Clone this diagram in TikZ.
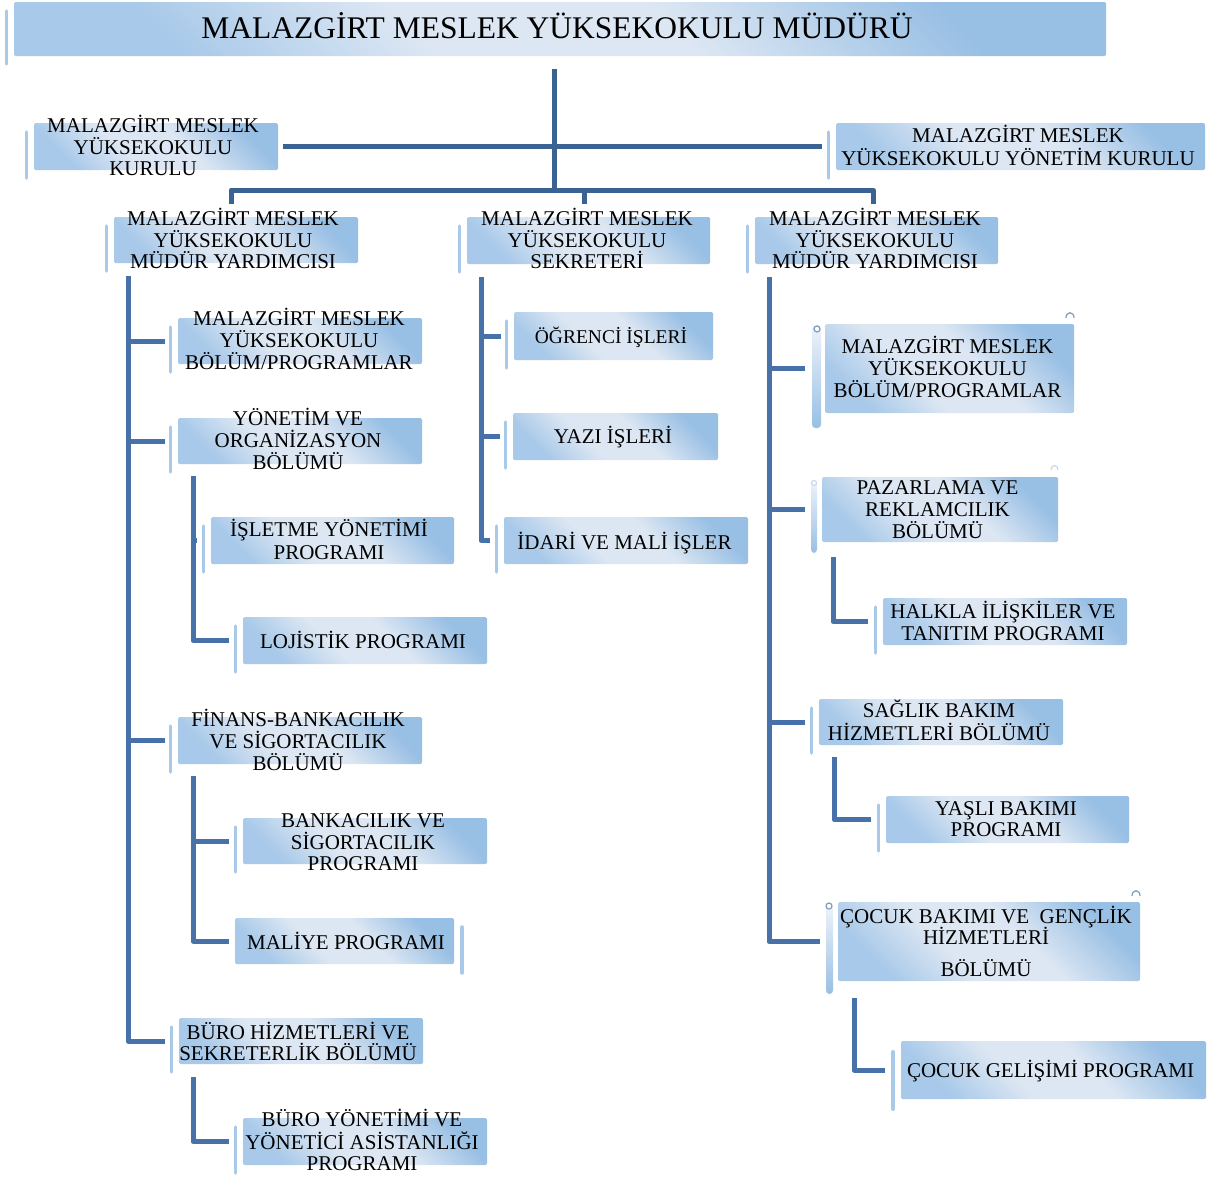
\documentclass[tikz,border=0pt]{standalone}
\usepackage{fontspec}
\setmainfont{Liberation Serif}
\definecolor{cA}{HTML}{3A6293}
\definecolor{cB}{HTML}{4672A9}
\definecolor{bxD}{HTML}{98BFE4}
\definecolor{bxL}{HTML}{DDE7F3}
\definecolor{bxB}{HTML}{A8C9E9}
\definecolor{barc}{HTML}{A9C9E9}
\definecolor{curlc}{HTML}{7F9CC0}
\pgfdeclareverticalshading{boxsh}{100bp}{color(0bp)=(bxB); color(25bp)=(bxB); color(41bp)=(bxL); color(57bp)=(bxL); color(75bp)=(bxD); color(100bp)=(bxD)}
\newcounter{lnc}
\newcommand\tline[4][21]{\stepcounter{lnc}\node[txt,font=\fontsize{#1}{22}\selectfont] (L\thelnc) at (#2,#3) {#4};}
\newcommand\obox[5]{\node[boxs,minimum width={(#4)-(#2)},minimum height={(#5)-(#3)}] (#1) at ({((#2)+(#4))/2},{((#3)+(#5))/2}) {};}
\newcommand\obar[1]{\draw[barl] ([shift={(-7.5pt,-9pt)}]#1.north west) -- ([shift={(-7.5pt,-8pt)}]#1.south west);}
\tikzset{
  txt/.style={anchor=base,inner sep=0pt,text=black},
  boxs/.style={draw=none,inner sep=0pt,outer sep=0pt,rounded corners=1.5pt,
    shade,shading=boxsh,shading angle=-45},
  barl/.style={draw=barc,line width=3.5pt,line cap=round},
  cA/.style={draw=cA,line width=5pt,line join=round},
  cB/.style={draw=cB,line width=5pt,line join=round},
  curl/.style={draw=curlc,line width=1.2pt},
  sbar/.style={top color=bxL!50!white,bottom color=bxD,rounded corners=3.5pt}
}
\begin{document}
\begin{tikzpicture}[x=1pt,y=-1pt]
\useasboundingbox (0,0) rectangle (1222,1176);

% ---------- boxes ----------
\obox{top}{14}{2}{1106}{56}\obar{top}
\obox{kur}{34}{123}{278}{170}\obar{kur}
\obox{yk}{836}{123}{1205}{170}\obar{yk}
\obox{A}{114}{217}{358}{263}\obar{A}
\obox{B}{467}{217}{710}{264}\obar{B}
\obox{C}{755}{217}{998}{264}\obar{C}
\obox{c1}{178}{318}{422}{364}\obar{c1}
\obox{yon}{178}{418}{422}{464}\obar{yon}
\obox{isl}{211}{517}{454}{564}\obar{isl}
\obox{loj}{243}{617}{487}{664}\obar{loj}
\obox{fin}{178}{717}{422}{764}\obar{fin}
\obox{bank}{243}{818}{487}{864}\obar{bank}
\obox{mal}{235}{918}{454}{964}
\draw[barl] ([shift={(8pt,-9pt)}]mal.north east) -- ([shift={(8pt,-9pt)}]mal.south east);
\obox{buro}{179}{1018}{423}{1064}\obar{buro}
\obox{bym}{243}{1118}{487}{1165}\obar{bym}
\obox{ogr}{514}{312}{713}{360}\obar{ogr}
\obox{yaz}{513}{413}{718}{460}\obar{yaz}
\obox{ida}{504}{517}{748}{564}\obar{ida}
\obox{rb1}{825}{324}{1074}{413}
\obox{paz}{822}{477}{1058}{542}
\obox{hal}{883}{598}{1127}{645}\obar{hal}
\obox{sag}{819}{699}{1063}{745}\obar{sag}
\obox{yas}{886}{796}{1129}{843}\obar{yas}
\obox{coc}{838}{902}{1140}{981}
\obox{cgp}{901}{1041}{1206}{1099}
\draw[barl,line width=4pt] ([shift={(-8pt,-11pt)}]cgp.north west) -- ([shift={(-8pt,-10pt)}]cgp.south west);

% special scroll bars
\shade[sbar] (812,325) rectangle (821,428);
\shade[sbar] (811,480) rectangle (817,553);
\shade[sbar] (826,905) rectangle (833,994);
\draw[curl,fill=white] (817,329) circle (3pt);
\draw[curl,fill=white,draw=curlc!40] (814,483) circle (2.5pt);
\draw[curl,fill=white] (829,906) circle (3pt);
\draw[curl] (1066,318) .. controls (1066,311) and (1074,311) .. (1074,318);
\draw[curl,draw=curlc!40] (1051,470) .. controls (1051,464) and (1058,464) .. (1058,470);
\draw[curl] (1132,896) .. controls (1132,889) and (1140,889) .. (1140,896);

% ---------- texts ----------
\tline[31.5]{557}{38.5}{MALAZGİRT MESLEK YÜKSEKOKULU MÜDÜRÜ}
\tline{153}{132}{MALAZGİRT MESLEK}
\tline{153}{154}{YÜKSEKOKULU}
\tline{153}{175}{KURULU}
\tline{1018}{142}{MALAZGİRT MESLEK}
\tline{1018}{165}{YÜKSEKOKULU YÖNETİM KURULU}
\tline{233}{225}{MALAZGİRT MESLEK}
\tline{233}{247}{YÜKSEKOKULU}
\tline{233}{268}{MÜDÜR YARDIMCISI}
\tline{587}{225}{MALAZGİRT MESLEK}
\tline{587}{247}{YÜKSEKOKULU}
\tline{587}{268}{SEKRETERİ}
\tline{875}{225}{MALAZGİRT MESLEK}
\tline{875}{247}{YÜKSEKOKULU}
\tline{875}{268}{MÜDÜR YARDIMCISI}
\tline{299}{325}{MALAZGİRT MESLEK}
\tline{299}{347}{YÜKSEKOKULU}
\tline{299}{369}{BÖLÜM/PROGRAMLAR}
\tline{298}{425}{YÖNETİM VE}
\tline{298}{447}{ORGANİZASYON}
\tline{298}{469}{BÖLÜMÜ}
\tline{329}{536}{İŞLETME YÖNETİMİ}
\tline{329}{559}{PROGRAMI}
\tline{363}{648}{LOJİSTİK PROGRAMI}
\tline{298}{726}{FİNANS-BANKACILIK}
\tline{298}{748}{VE SİGORTACILIK}
\tline{298}{770}{BÖLÜMÜ}
\tline{363}{827}{BANKACILIK VE}
\tline{363}{849}{SİGORTACILIK}
\tline{363}{870}{PROGRAMI}
\tline{346}{949}{MALİYE PROGRAMI}
\tline{298}{1039}{BÜRO HİZMETLERİ VE}
\tline{298}{1060}{SEKRETERLİK BÖLÜMÜ}
\tline{362}{1126}{BÜRO YÖNETİMİ VE}
\tline{362}{1149}{YÖNETİCİ ASİSTANLIĞI}
\tline{362}{1170}{PROGRAMI}
\tline[19.5]{611}{343}{ÖĞRENCİ İŞLERİ}
\tline{613}{443}{YAZI İŞLERİ}
\tline{624.5}{549}{İDARİ VE MALİ İŞLER}
\tline{947.5}{353}{MALAZGİRT MESLEK}
\tline{947.5}{375}{YÜKSEKOKULU}
\tline{947.5}{397}{BÖLÜM/PROGRAMLAR}
\tline{937.5}{494}{PAZARLAMA VE}
\tline{937.5}{516}{REKLAMCILIK}
\tline{937.5}{538}{BÖLÜMÜ}
\tline{1003}{618}{HALKLA İLİŞKİLER VE}
\tline{1003}{640}{TANITIM PROGRAMI}
\tline{939}{717}{SAĞLIK BAKIM}
\tline{939}{740}{HİZMETLERİ BÖLÜMÜ}
\tline{1006}{815}{YAŞLI BAKIMI}
\tline{1006}{836}{PROGRAMI}
\tline{986}{923}{ÇOCUK BAKIMI VE \ GENÇLİK}
\tline{986}{944}{HİZMETLERİ}
\tline{986}{976}{BÖLÜMÜ}
\tline{1050.5}{1077}{ÇOCUK GELİŞİMİ PROGRAMI}

% ---------- connectors ----------
\coordinate (T0) at (554,69);
\coordinate (B0) at (554,190);
\coordinate (dA) at (231,204);
\coordinate (dB) at (584,204);
\coordinate (dC) at (873,204);
\draw[cA] (T0) -- (B0);
\draw[cA] ([xshift=5pt]kur.east) -- ([xshift=-14pt]yk.west);
\draw[cA] (dA) |- (B0) -| (dC);
\draw[cA] (B0 -| dB) -- (dB);

\coordinate (LT) at (128,276);
\draw[cB] (LT) |- ([xshift=-14pt]buro.west);
\foreach \n in {c1,yon,fin} \draw[cB] (LT |- \n.west) -- ([xshift=-13pt]\n.west);
\coordinate (S1) at (193,476);
\draw[cB] (S1) |- ([xshift=-14pt]loj.west);
\draw[cB] (S1 |- isl.west) -- ++(4,0);
\coordinate (S2) at (193,776);
\draw[cB] (S2) |- ([xshift=-6pt]mal.west);
\draw[cB] (S2 |- bank.west) -- ([xshift=-14pt]bank.west);
\coordinate (S3) at (193,1077);
\draw[cB] (S3) |- ([xshift=-14pt]bym.west);

\coordinate (MT) at (481,277);
\draw[cB] (MT) |- ([xshift=-14pt]ida.west);
\foreach \n in {ogr,yaz} \draw[cB] (MT |- \n.west) -- ([xshift=-13pt]\n.west);

\coordinate (RT) at (769,277);
\draw[cB] (RT) |- ([xshift=-18pt]coc.west);
\draw[cB] (RT |- rb1.west) -- ([xshift=-20pt]rb1.west);
\draw[cB] (RT |- paz.west) -- ([xshift=-17pt]paz.west);
\draw[cB] (RT |- sag.west) -- ([xshift=-14pt]sag.west);
\coordinate (S4) at (833,557);
\draw[cB] (S4) |- ([xshift=-15pt]hal.west);
\coordinate (S5) at (834,757);
\draw[cB] (S5) |- ([xshift=-15pt]yas.west);
\coordinate (S6) at (854,998);
\draw[cB] (S6) |- ([xshift=-16pt]cgp.west);
\end{tikzpicture}
\end{document}
